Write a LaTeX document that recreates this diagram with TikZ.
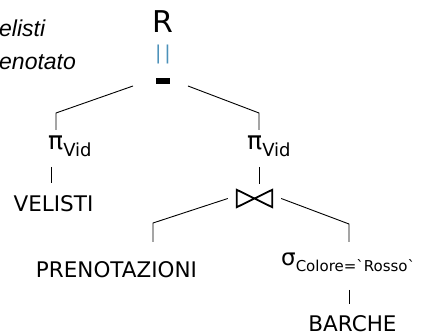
\documentclass[tikz,border=0pt]{standalone}
\usepackage{fontspec}
\setmainfont{DejaVu Sans}
\newfontfamily\notefont{Liberation Sans}
\definecolor{eqblue}{RGB}{75,145,185}
\begin{document}
\begin{tikzpicture}[x=1pt,y=-1pt,leaf/.style={inner sep=0pt, anchor=base, font=\fontsize{21.5}{24}\selectfont},oper/.style={inner sep=0pt, anchor=base west, font=\fontsize{25}{28}\selectfont},note/.style={inner sep=0pt, anchor=base west, font=\notefont\itshape\fontsize{23}{26}\selectfont},branch/.style={line width=0.9pt},]
    \useasboundingbox (0,0) rectangle (421,336);
            \node[note] (note1) at (-1,37) {elisti};
            \node[note] (note2) at (-1,70) {enotato};
            \node[leaf, font=\fontsize{30}{32}\selectfont] (res) at (162.5,33) {R};
            \node[leaf, text=eqblue, font=\fontsize{19}{20}\selectfont] (eq) at (163,59.5) {|\kern3pt|};
            \node[fill=black, minimum width=14pt, minimum height=6pt, inner sep=0pt] (minus) at (163,81) {};
            \node[oper] (pi1) at (48,150) {π\raisebox{-7pt}{\fontsize{18}{20}\selectfont Vid}};
            \node[oper] (pi2) at (247,150) {π\raisebox{-7pt}{\fontsize{18}{20}\selectfont Vid}};
            \node[leaf] (velisti) at (53.5,212) {VELISTI};
            \node[minimum width=35pt, minimum height=17pt, inner sep=0pt] (join) at (254.5,198.5) {};
            \node[leaf] (prenot) at (116.5,278) {PRENOTAZIONI};
            \node[oper, font=\fontsize{23}{26}\selectfont] (sigma) at (281,266) {σ\raisebox{-6pt}{\fontsize{15}{18}\selectfont Colore=\textasciigrave Rosso\textasciigrave}};
            \node[leaf] (barche) at (352.5,332) {BARCHE};
            \coordinate (kl) at (56,113);
            \coordinate (kr) at (259,113);
            \coordinate (kj1) at (153,223);
            \coordinate (kj2) at (349,224);
            \draw[line width=1.8pt, line join=miter] (join.south west) -- (join.north east) -- (join.south east) -- (join.north west) -- cycle;
            \draw[branch] ([shift={(-30,5)}]minus.center) -- (kl) -- ([shift={(8,-20)}]pi1.base west);
            \draw[branch] ([shift={(25,5)}]minus.center) -- (kr) -- ([shift={(12,-20)}]pi2.base west);
            \draw[branch] ([shift={(3,17)}]pi1.base west) -- ([shift={(-2.5,-29)}]velisti.base);
            \draw[branch] ([shift={(12,17)}]pi2.base west) -- ([shift={(4.5,-6)}]join.north);
            \draw[branch] ([shift={(-9,0)}]join.west) -- (kj1) -- ([shift={(36.5,-36)}]prenot.base);
            \draw[branch] ([shift={(9,0)}]join.east) -- (kj2) -- ([shift={(68,-24)}]sigma.base west);
            \draw[branch] ([shift={(68,24)}]sigma.base west) -- ([shift={(-3.5,-28)}]barche.base);
        \end{tikzpicture}
\end{document}
